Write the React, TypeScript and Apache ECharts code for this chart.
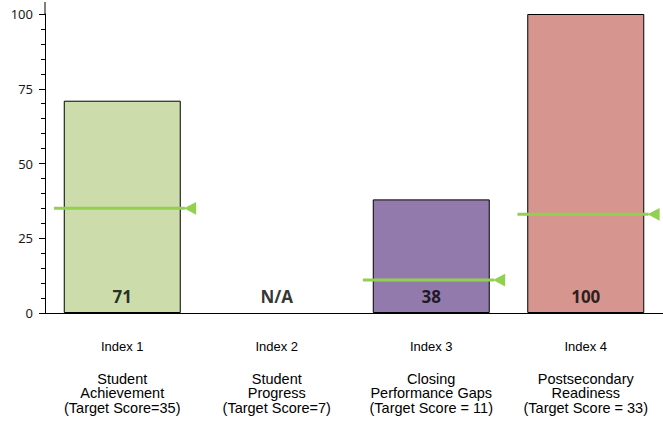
import React, { useEffect, useRef } from "react";
import * as echarts from "echarts";

const categories = ["Index 1", "Index 2", "Index 3", "Index 4"];
const descriptions = [
  ["Student", "Achievement"],
  ["Student", "Progress"],
  ["Closing", "Performance Gaps"],
  ["Postsecondary", "Readiness"],
];
const targetLabels = [
  "(Target Score=35)",
  "(Target Score=7)",
  "(Target Score = 11)",
  "(Target Score = 33)",
];
const scores: (number | null)[] = [71, null, 38, 100];
const targets = [35, 7, 11, 33];
const yTicks = [0, 25, 50, 75, 100];

const barColors = ["#CCDCAA", "#CCDCAA", "#927AAC", "#D7958F"];
const targetColor = "#92D050";

export default function App() {
  const ref = useRef<HTMLDivElement>(null);
  useEffect(() => {
    if (!ref.current) return;
    const chart = echarts.init(ref.current, null, { renderer: "svg" });
    const option: any = {
      animation: false,
      grid: { left: 45, right: -3, top: 14, bottom: 110, containLabel: false },
      graphic: [
        {
          type: "line",
          shape: { x1: 45, y1: 2, x2: 45, y2: 14 },
          style: { stroke: "#000", lineWidth: 1 },
          silent: true,
        },
      ],
      xAxis: {
        type: "category",
        data: categories,
        axisLine: { lineStyle: { color: "#000", width: 1 } },
        axisTick: { show: false },
        axisLabel: {
          interval: 0,
          margin: 25,
          color: "#000",
          formatter: (v: string, i: number) =>
            `{i|${v}}\n{g| }\n` +
            descriptions[i].map((d) => `{d|${d}}`).join("\n") +
            `\n{d|${targetLabels[i]}}`,
          rich: {
            i: { fontFamily: "Liberation Sans", fontSize: 13, lineHeight: 16, color: "#000" },
            g: { fontSize: 10, lineHeight: 17.5 },
            d: { fontFamily: "Liberation Sans", fontSize: 14.5, lineHeight: 14.5, color: "#000" },
          },
        },
      },
      yAxis: {
        type: "value",
        min: yTicks[0],
        max: yTicks[yTicks.length - 1],
        interval: 25,
        splitLine: { show: false },
        axisLine: { show: true, lineStyle: { color: "#000", width: 1 } },
        axisTick: { show: true, length: 6, lineStyle: { color: "#000" } },
        minorTick: { show: true, splitNumber: 5, length: 4, lineStyle: { color: "#000" } },
        axisLabel: {
          margin: 12,
          fontFamily: "Noto Sans",
          fontSize: 13,
          color: "#1a1a1a",
        },
      },
      series: [
        {
          type: "bar",
          barWidth: 117,
          data: scores.map((v, i) => ({
            value: v == null ? "-" : v,
            itemStyle: { color: barColors[i], borderColor: "#000", borderWidth: 1 },
          })),
          silent: true,
        },
        {
          type: "custom",
          silent: true,
          z: 5,
          data: targets
            .map((t, i) => (scores[i] == null ? null : [i, t]))
            .filter((d) => d != null),
          encode: { x: 0, y: 1 },
          renderItem: (params: any, api: any) => {
            const p = api.coord([api.value(0), api.value(1)]);
            const bw = api.size([1, 0])[0];
            const x0 = p[0] - bw * 0.442;
            const x1 = p[0] + bw * 0.4;
            const x2 = p[0] + bw * 0.478;
            const y = p[1];
            return {
              type: "group",
              children: [
                {
                  type: "line",
                  shape: { x1: x0, y1: y, x2: x1 + 1, y2: y },
                  style: { stroke: targetColor, lineWidth: 3 },
                },
                {
                  type: "polygon",
                  shape: { points: [[x1, y], [x2, y - 6.3], [x2, y + 6.3]] },
                  style: { fill: targetColor },
                },
              ],
            };
          },
        },
        {
          type: "scatter",
          silent: true,
          symbolSize: 0,
          z: 6,
          data: scores.map((v, i) => [i, 0]),
          label: {
            show: true,
            position: "inside",
            offset: [0, -17],
            fontFamily: "Noto Sans",
            fontWeight: "bold",
            fontSize: 17,
            color: "#000",
            formatter: (p: any) => {
              const v = scores[p.dataIndex];
              return v == null ? "N/A" : String(v);
            },
          },
        },
      ],
    };
    chart.setOption(option);
    return () => chart.dispose();
  }, []);
  return (
    <div
      ref={ref}
      style={{ position: "fixed", left: 0, top: 0, width: 663, height: 423, background: "#fff" }}
    />
  );
}
